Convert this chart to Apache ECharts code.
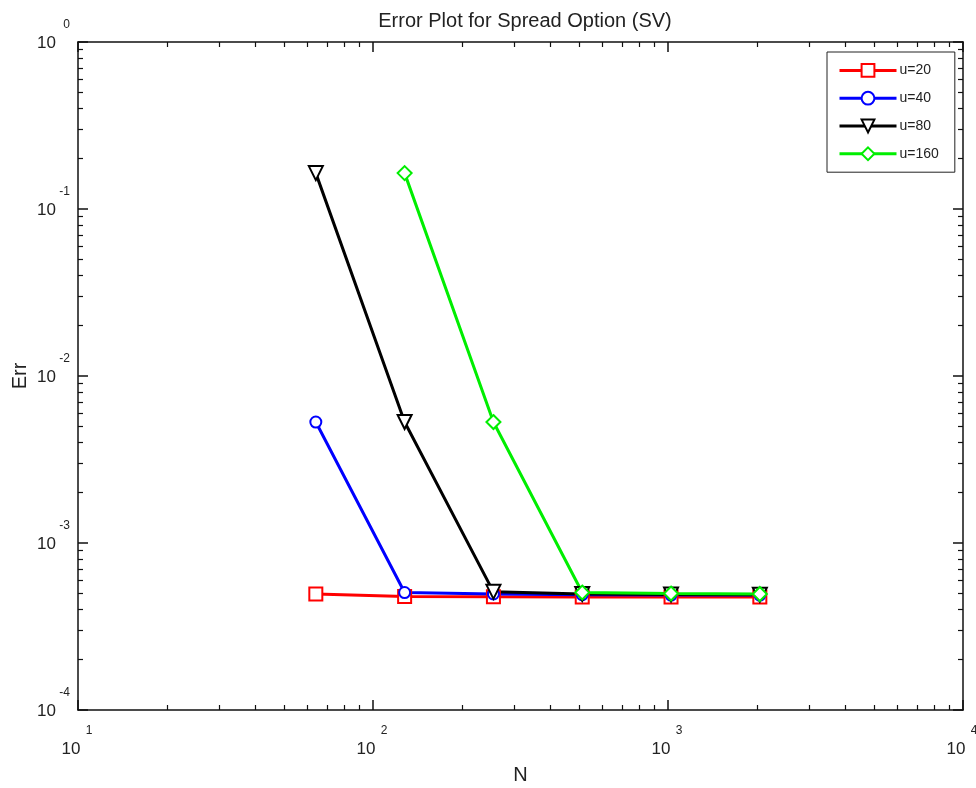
<!DOCTYPE html>
<html>
<head>
<meta charset="utf-8">
<script src="https://cdn.jsdelivr.net/npm/echarts@6/dist/echarts.min.js"></script>
<style>
  html, body { margin: 0; padding: 0; background: #fff; }
  #chart { width: 976px; height: 788px; }
</style>
</head>
<body>
<div id="chart"></div>
<script>
// values
const nValues = [64, 128, 256, 512, 1024, 2048];
const errU20 = [4.95e-4, 4.78e-4, 4.76e-4, 4.75e-4, 4.75e-4, 4.75e-4];
const errU40 = [5.3e-3, 5.05e-4, 4.95e-4, 4.9e-4, 4.88e-4, 4.88e-4];
const errU80 = [0.164, 5.3e-3, 5.1e-4, 4.95e-4, 4.92e-4, 4.9e-4];
const nU160 = [128, 256, 512, 1024, 2048];
const errU160 = [0.164, 5.3e-3, 5.05e-4, 4.98e-4, 4.95e-4];

const fontFam = '"Liberation Sans", Arial, sans-serif';

const pairs = (xs, ys) => xs.map((x, i) => [x, ys[i]]);

const supLabel = (v) => {
  const e = Math.round(Math.log10(v));
  return '{s|}{e|' + e + '}\n{b|10}{s2|}';
};

const richX = {
  s: { width: 22 },
  e: { fontSize: 12, width: 14, color: '#222', fontFamily: fontFam, lineHeight: 16 },
  b: { fontSize: 17, width: 22, color: '#222', fontFamily: fontFam, lineHeight: 20 },
  s2: { width: 14 }
};

const chart = echarts.init(document.getElementById('chart'));

const lineSeries = (name, data, color, symbol, size, rot) => ({
  name: name,
  type: 'line',
  data: data,
  symbol: symbol,
  symbolSize: size,
  symbolRotate: rot || 0,
  showAllSymbol: true,
  lineStyle: { color: color, width: 3 },
  itemStyle: { color: color, borderColor: color, borderWidth: 2.5 },
  color: color,
  animation: false
});

const boxAxis = {
  axisLine: { lineStyle: { color: '#111', width: 1.5 } },
  axisTick: { inside: true, length: 10, lineStyle: { color: '#111', width: 1.5 } },
  minorTick: { show: true, splitNumber: 9, length: 5, lineStyle: { color: '#111', width: 1.2 } },
  splitLine: { show: false }
};

chart.setOption({
  backgroundColor: '#fff',
  animation: false,
  title: {
    text: 'Error Plot for Spread Option (SV)',
    left: 520,
    textAlign: 'center',
    top: 6,
    textStyle: { fontFamily: fontFam, fontSize: 20, fontWeight: 'normal', color: '#222' }
  },
  grid: { left: 78, right: 13, top: 42, bottom: 78, containLabel: false, outerBoundsMode: 'none' },
  legend: {
    orient: 'vertical',
    left: 827,
    top: 52,
    itemWidth: 57,
    itemHeight: 16,
    itemGap: 13,
    padding: [11, 16, 11, 11],
    borderColor: '#222',
    borderWidth: 1,
    backgroundColor: '#fff',
    lineStyle: { width: 3 },
    textStyle: { fontFamily: fontFam, fontSize: 14, color: '#222', padding: [0, 0, 0, -2] },
    data: ['u=20', 'u=40', 'u=80', 'u=160']
  },
  xAxis: [Object.assign({
    type: 'log',
    logBase: 10,
    min: 10,
    max: 10000,
    name: 'N',
    nameLocation: 'middle',
    nameGap: 55,
    nameMoveOverlap: false,
    nameTextStyle: { fontFamily: fontFam, fontSize: 20, color: '#222' },
    axisLabel: {
      margin: 13,
      formatter: supLabel,
      rich: richX
    }
  }, boxAxis), Object.assign({
    type: 'log',
    logBase: 10,
    min: 10,
    max: 10000,
    position: 'top',
    axisLabel: { show: false }
  }, boxAxis)],
  yAxis: [Object.assign({
    type: 'log',
    logBase: 10,
    min: 1e-4,
    max: 1,
    name: 'Err',
    nameLocation: 'middle',
    nameGap: 48,
    nameMoveOverlap: false,
    nameTextStyle: { fontFamily: fontFam, fontSize: 20, color: '#222' },
    axisLabel: {
      margin: 8,
      padding: [0, 0, 14, 0],
      formatter: supLabel,
      rich: richX
    }
  }, boxAxis), Object.assign({
    type: 'log',
    logBase: 10,
    min: 1e-4,
    max: 1,
    position: 'right',
    axisLabel: { show: false }
  }, boxAxis)],
  series: [
    lineSeries('u=20', pairs(nValues, errU20), '#ff0000', 'emptyRect', 13),
    lineSeries('u=40', pairs(nValues, errU40), '#0000ff', 'emptyCircle', 11),
    lineSeries('u=80', pairs(nValues, errU80), '#000000', 'emptyTriangle', 14, 180),
    lineSeries('u=160', pairs(nU160, errU160), '#00ee00', 'emptyDiamond', 14)
  ]
});

window.onresize = function () {
  chart.resize();
};
</script>
</body>
</html>
